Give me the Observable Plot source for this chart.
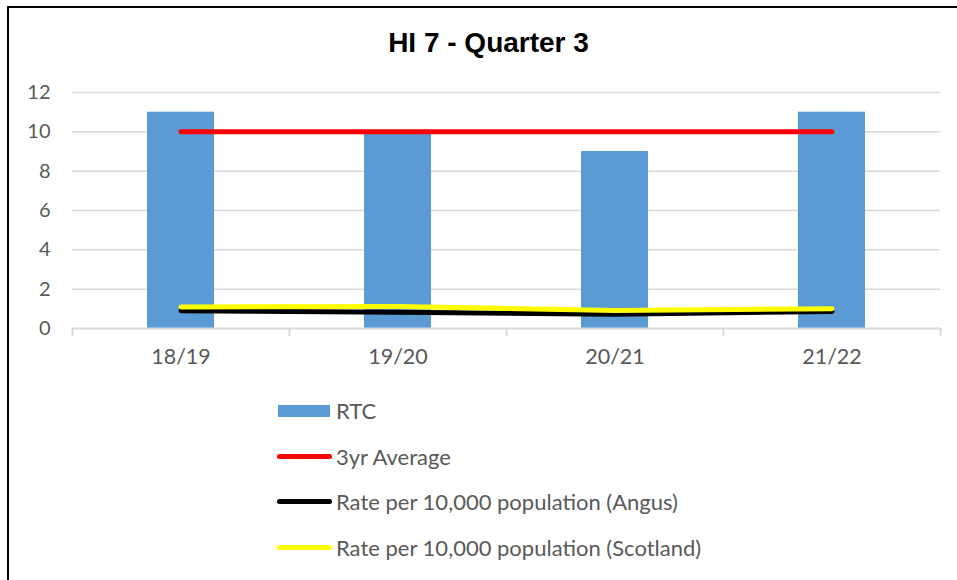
<!DOCTYPE html>
<html>
<head>
<meta charset="utf-8">
<script src="https://cdn.jsdelivr.net/npm/d3@7"></script>
<script src="https://cdn.jsdelivr.net/npm/@observablehq/plot@0.6"></script>
<style>
  html, body { margin: 0; padding: 0; background: #fff; width: 957px; height: 580px; overflow: hidden; }
  #frame { position: absolute; left: 7px; top: 6px; width: 1000px; height: 700px; border-left: 2px solid #000; border-top: 2px solid #000; }
  #title { position: absolute; left: 0; top: 27px; width: 977px; text-align: center; font-family: "Liberation Sans", Arial, sans-serif; font-weight: bold; font-size: 28px; line-height: 32px; color: #000; }
  #chart { position: absolute; left: 0; top: 0; }
  #legend { position: absolute; left: 277px; top: 388px; font-family: Lato, sans-serif; font-size: 22px; color: #595959; }
  .row { position: relative; height: 45.5px; display: flex; align-items: center; }
  .sw { width: 55px; margin-right: 4px; flex: none; }
</style>
</head>
<body>
<div id="frame"></div>
<div id="title">HI 7 - Quarter 3</div>
<div id="chart"></div>
<div id="legend"></div>
<script>
const categories = ["18/19", "19/20", "20/21", "21/22"];
const rtc = [11, 10, 9, 11];
const avg3yr = [10, 10, 10, 10];
const rateAngus = [0.9, 0.83, 0.73, 0.87];
const rateScotland = [1.09, 1.12, 0.92, 1.0];
const yTicks = [0, 2, 4, 6, 8, 10, 12];

const seriesNames = ["RTC", "3yr Average", "Rate per 10,000 population (Angus)", "Rate per 10,000 population (Scotland)"];
const seriesColors = ["#5b9bd5", "#ff0000", "#000000", "#ffff00"];

const rows = categories.map((c, i) => ({cat: c, rtc: rtc[i], avg: avg3yr[i], angus: rateAngus[i], scot: rateScotland[i]}));
const last = categories[categories.length - 1];

const chart = Plot.plot({
  width: 957,
  height: 381,
  marginLeft: 72,
  marginRight: 17,
  marginTop: 92,
  marginBottom: 53,
  style: {fontFamily: "Lato, sans-serif", color: "#595959", background: "transparent"},
  x: {domain: categories, paddingInner: 0.69, paddingOuter: 0.345, label: null},
  y: {domain: [0, 12], label: null},
  marks: [
    Plot.gridY(yTicks.filter(t => t > 0), {stroke: "#d9d9d9", strokeOpacity: 1, strokeWidth: 1.5}),
    Plot.axisY(yTicks, {tickSize: 0, tickPadding: 22, fontSize: 20, label: null}),
    Plot.axisX({tickSize: 0, tickPadding: 20, fontSize: 21.5, label: null}),
    Plot.barY(rows, {x: "cat", y: "rtc", fill: seriesColors[0]}),
    Plot.ruleY([0], {stroke: "#d9d9d9", strokeWidth: 2}),
    Plot.ruleX(categories, {x: d => d, y1: 0, y2: -0.4, dx: -108.5, stroke: "#d9d9d9", strokeWidth: 2}),
    Plot.ruleX([last], {x: d => d, y1: 0, y2: -0.4, dx: 108.5, stroke: "#d9d9d9", strokeWidth: 2}),
    Plot.lineY(rows, {x: "cat", y: "avg", stroke: seriesColors[1], strokeWidth: 5, strokeLinecap: "round"}),
    Plot.lineY(rows, {x: "cat", y: "angus", stroke: seriesColors[2], strokeWidth: 5, strokeLinecap: "round", strokeLinejoin: "round"}),
    Plot.lineY(rows, {x: "cat", y: "scot", stroke: seriesColors[3], strokeWidth: 5, strokeLinecap: "round", strokeLinejoin: "round"})
  ]
});
document.getElementById("chart").appendChild(chart);

const legend = document.getElementById("legend");
seriesNames.forEach((name, i) => {
  const row = document.createElement("div");
  row.className = "row";
  const sw = document.createElement("div");
  sw.className = "sw";
  if (i === 0) {
    sw.style.height = "12px";
    sw.style.width = "52px";
    sw.style.marginLeft = "1px";
    sw.style.marginRight = "6px";
    sw.style.background = seriesColors[i];
  } else {
    sw.style.height = "5px";
    sw.style.borderRadius = "3px";
    sw.style.background = seriesColors[i];
  }
  const t = document.createElement("span");
  t.textContent = name;
  row.appendChild(sw);
  row.appendChild(t);
  legend.appendChild(row);
});
</script>
</body>
</html>
